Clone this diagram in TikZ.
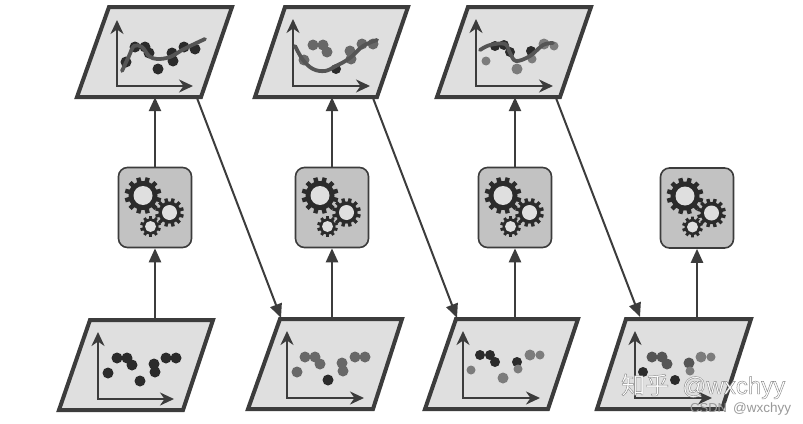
\documentclass[tikz,border=0pt]{standalone}
\usepackage{fontspec}
\setmainfont{Liberation Sans}
\newfontfamily\cjkfont{Noto Sans CJK SC}
\usetikzlibrary{arrows.meta,fit,calc}
\definecolor{ink}{HTML}{3C3C3C}
\definecolor{panelfill}{HTML}{DFDFDF}
\definecolor{gearbox}{HTML}{C2C2C2}
\definecolor{D}{HTML}{2B2B2B}
\definecolor{M}{HTML}{555555}
\definecolor{G}{HTML}{686868}
\definecolor{L}{HTML}{7C7C7C}
\tikzset{
  x=1pt,y=-1pt,
  panelshape/.style={draw=ink,fill=panelfill,line width=4pt,line join=miter},
  axisline/.style={draw=ink,line width=2.4pt,{Stealth[length=14pt,width=13pt,inset=4.5pt]}-{Stealth[length=14pt,width=13pt,inset=4.5pt]}},
  flow/.style={draw=ink,line width=2.4pt,-{Stealth[length=14pt,width=12pt,inset=0pt]}},
  slanted/.style={flow,line width=2pt},
  fitcurve/.style={draw=M,line width=3.8pt,line cap=round,line join=round},
  gearnode/.style={draw=ink,fill=gearbox,line width=1.6pt,rounded corners=9pt,minimum width=73pt,minimum height=80pt,inner sep=0pt},
  markwm/.style={inner sep=0pt,anchor=base west}
}
% name, TLx, TRx, BRx, BLx, top, bottom
\newcommand{\panelat}[7]{%
  \coordinate (#1 tl) at (#2,#6);
  \coordinate (#1 tr) at (#3,#6);
  \coordinate (#1 br) at (#4,#7);
  \coordinate (#1 bl) at (#5,#7);
  \path[panelshape] (#1 tl) -- (#1 tr) -- (#1 br) -- (#1 bl) -- cycle;
  \node[fit=(#1 tl)(#1 tr)(#1 br)(#1 bl),inner sep=0pt] (#1) {};
}
% name, origin x, origin y, arrow length x, arrow length y
\newcommand{\axesat}[5]{%
  \coordinate (#1 o) at (#2,#3);
  \coordinate (#1 xe) at (#2+#4,#3);
  \coordinate (#1 ye) at (#2,#3-#5);
  \draw[axisline] (#1 ye) -- (#1 o) -- (#1 xe);
}
\newcommand{\cog}[6]{% cx cy outer root hole teeth
  \begin{scope}[shift={(#1,#2)}]
    \pgfmathsetmacro{\st}{360/#6}
    \fill[D] (0:#4)
    \foreach \k in {1,...,#6}{
      -- ({(\k-1)*\st+0.20*\st}:#4)
      -- ({(\k-1)*\st+0.28*\st}:#3)
      -- ({(\k-1)*\st+0.72*\st}:#3)
      -- ({(\k-1)*\st+0.80*\st}:#4)
      -- ({\k*\st}:#4)
    } -- cycle;
    \fill[panelfill] (0,0) circle[radius=#5];
  \end{scope}
}
\newcommand{\gearsat}[1]{%
  \begin{scope}[shift={(#1.center)}]
    \cog{-12}{-12}{18.5}{14.5}{9.5}{12}
    \cog{14.5}{5}{14.5}{11}{7.5}{12}
    \cog{-4.5}{19}{10.5}{8}{5.5}{10}
  \end{scope}
}
\begin{document}
\begin{tikzpicture}
\useasboundingbox (0,0) rectangle (803,423);
\fill[white] (0,0) rectangle (803,423);

% panels
\panelat{p1}{109}{232}{201}{77}{7}{97}
\panelat{p2}{285}{408}{377}{255}{7}{97}
\panelat{p3}{468}{591}{560}{437}{7}{97}
\panelat{b1}{90}{213}{183}{59}{320}{410}
\panelat{b2}{280}{402}{373}{248}{319}{409}
\panelat{b3}{456}{578}{548}{425}{319}{409}
\panelat{b4}{626}{751}{722}{597}{319}{409}

% axes
\axesat{ap1}{117}{86}{76}{66}
\axesat{ap2}{293}{86}{77}{67}
\axesat{ap3}{476}{86}{77}{67}
\axesat{ab1}{98}{399}{76}{67}
\axesat{ab2}{287}{398}{77}{67}
\axesat{ab3}{463}{398}{77}{67}
\axesat{ab4}{635}{398}{77}{67}

% data points, top row
\begin{scope}[shift={(ap1 o)}]
  \foreach \a/\b/\r/\c in {18/-39/5/D,28/-39/5/D,32/-33/5/D,9/-24/5/D,41/-17/5/D,55/-33/5/D,56/-25/5/D,67/-39/5/D,78/-37/5/D}
    \fill[\c] (\a,\b) circle[radius=\r+0.5];
  \draw[fitcurve] plot[smooth,tension=0.6] coordinates {(5,-15) (12,-30) (17,-40) (25,-39) (32,-30) (40,-27) (53,-29) (67,-37) (88,-47)};
\end{scope}
\begin{scope}[shift={(ap2 o)}]
  \foreach \a/\b/\r/\c in {20/-41/5/G,30/-41/5/G,34/-34/5/G,11/-26/5/G,43/-17/4.5/D,57/-35/5/G,58/-27/5/G,69/-42/5/G,80/-42/5/G}
    \fill[\c] (\a,\b) circle[radius=\r+0.5];
  \draw[fitcurve] plot[smooth,tension=0.6] coordinates {(2,-40) (10,-26) (20,-17) (32,-15) (43,-20) (57,-28) (70,-40) (84,-46)};
\end{scope}
\begin{scope}[shift={(ap3 o)}]
  \foreach \a/\b/\r/\c in {19/-40/4.5/D,28/-41/4.5/D,34/-34/4.5/D,10/-25/4/L,41/-17/5/L,55/-35/4.5/D,56/-27/4/L,68/-42/5/L,78/-40/4/L}
    \fill[\c] (\a,\b) circle[radius=\r+0.5];
  \draw[fitcurve] plot[smooth,tension=0.6] coordinates {(4,-36) (14,-41) (29,-42) (34,-33) (40,-25) (54,-30) (67,-41) (77,-43)};
\end{scope}

% data points, bottom row
\begin{scope}[shift={(ab1 o)}]
  \foreach \a/\b/\r/\c in {19/-41/5/D,29/-41/5/D,34/-34/5/D,10/-26/5/D,42/-18/5/D,56/-35/5/D,57/-27/5/D,68/-41/5/D,78/-41/5/D}
    \fill[\c] (\a,\b) circle[radius=\r+0.5];
\end{scope}
\begin{scope}[shift={(ab2 o)}]
  \foreach \a/\b/\r/\c in {18/-41/5/G,28/-41/5/G,33/-34/5/G,10/-26/5/G,41/-18/5/D,55/-35/5/G,56/-27/5/G,68/-41/5/G,78/-41/5/G}
    \fill[\c] (\a,\b) circle[radius=\r+0.5];
\end{scope}
\begin{scope}[shift={(ab3 o)}]
  \foreach \a/\b/\r/\c in {17/-43/4.5/D,27/-43/4.5/D,32/-36/4.5/D,8/-28/4/L,40/-20/5/L,54/-36/4.5/D,55/-29/4/L,67/-43/5/L,77/-43/4/L}
    \fill[\c] (\a,\b) circle[radius=\r+0.5];
\end{scope}
\begin{scope}[shift={(ab4 o)}]
  \foreach \a/\b/\r/\c in {17/-41/5/M,27/-41/5/M,32/-34/5/M,8/-26/4.5/D,40/-18/4.5/D,54/-35/5/M,55/-27/4/L,66/-41/5/L,76/-41/4/L}
    \fill[\c] (\a,\b) circle[radius=\r+0.5];
\end{scope}

% predictor boxes
\node[gearnode] (g1) at (155,207.5) {};
\node[gearnode] (g2) at (332,207.5) {};
\node[gearnode] (g3) at (515,207.5) {};
\node[gearnode] (g4) at (697,208) {};
\gearsat{g1}
\gearsat{g2}
\gearsat{g3}
\gearsat{g4}

% connectors
\draw[flow] (b1.north -| g1.south) -- (g1.south);
\draw[flow] (g1.north) -- (g1.north |- p1.south);
\draw[flow] (b2.north -| g2.south) -- (g2.south);
\draw[flow] (g2.north) -- (g2.north |- p2.south);
\draw[flow] (b3.north -| g3.south) -- (g3.south);
\draw[flow] (g3.north) -- (g3.north |- p3.south);
\draw[flow] (b4.north -| g4.south) -- (g4.south);

\coordinate (e1s) at ($(p1 br)+(-4,1)$);
\coordinate (e2s) at ($(p2 br)+(-4,1)$);
\coordinate (e3s) at ($(p3 br)+(-4,1)$);
\coordinate (e1t) at ($(b2 tl)+(1,-1)$);
\coordinate (e2t) at ($(b3 tl)+(1,-1)$);
\coordinate (e3t) at ($(b4 tl)+(14,-2)$);
\draw[slanted] (e1s) -- (e1t);
\draw[slanted] (e2s) -- (e2t);
\draw[slanted] (e3s) -- (e3t);

% watermarks
\node[markwm] (wm1) at (621,394) {\special{pdf:code q 2 Tr 0.45 w 0.55 0.55 0.55 RG 1 1 1 rg}\fontsize{24}{24}\selectfont\cjkfont 知乎\special{pdf:code Q}};
\node[markwm] (wm2) at (682,394) {\special{pdf:code q 2 Tr 0.45 w 0.55 0.55 0.55 RG 1 1 1 rg}\fontsize{24}{24}\selectfont @wxchyy\special{pdf:code Q}};
\node[markwm,text=black!40] (wm3) at (690,412) {\fontsize{13}{13}\selectfont CSDN};
\node[markwm,text=black!40] (wm4) at (733,412) {\fontsize{13.5}{13.5}\selectfont @wxchyy};
\end{tikzpicture}
\end{document}
